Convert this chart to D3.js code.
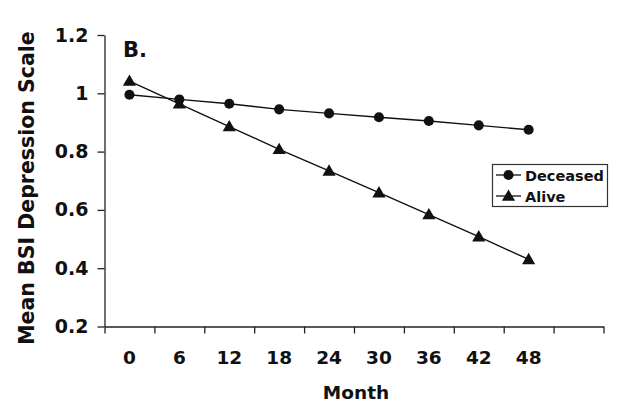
<!DOCTYPE html>
<html><head><meta charset="utf-8">
<script src="https://cdn.jsdelivr.net/npm/d3@7"></script>
<style>html,body{margin:0;padding:0;background:#fff;}svg{display:block;}</style>
</head><body>
<svg id="c" width="640" height="412"></svg>
<script>
const months = ["0","6","12","18","24","30","36","42","48"];
const slots = 10;
const deceased = [0.995, 0.979, 0.964, 0.945, 0.931, 0.918, 0.905, 0.89, 0.875];
const alive = [1.042, 0.964, 0.886, 0.808, 0.734, 0.659, 0.584, 0.508, 0.43];
const yTicks = [0.2, 0.4, 0.6, 0.8, 1, 1.2];
const yTickLabels = ["0.2","0.4","0.6","0.8","1","1.2"];

const font = "'DejaVu Sans', sans-serif";
const svg = d3.select("#c");
const mL = 104.5, mR = 603.5, mT = 35, mB = 326.5;
const xi = d3.scaleLinear().domain([0, slots]).range([mL, mR]);
const y = d3.scaleLinear().domain([0.2, 1.2]).range([mB, mT]);
const xc = i => xi(i + 0.5);

// Y axis
const ya = svg.append("g").attr("transform", `translate(${mL},0)`)
  .call(d3.axisLeft(y).tickValues(yTicks).tickSize(7).tickSizeOuter(0).tickFormat((d,i)=>yTickLabels[i]).tickPadding(9));
ya.selectAll("text").attr("font-family", font).attr("font-weight", "bold").attr("font-size", 19).attr("fill","#111");
ya.select(".domain").attr("stroke", "#222").attr("stroke-width", 1.3);
ya.selectAll(".tick line").attr("stroke", "#222").attr("stroke-width", 1.3);

// X axis (boundary ticks)
const xa = svg.append("g").attr("transform", `translate(0,${mB})`)
  .call(d3.axisBottom(xi).tickValues(d3.range(0, slots + 1)).tickSize(7).tickSizeOuter(0).tickFormat(""));
xa.select(".domain").attr("stroke", "#222").attr("stroke-width", 1.3);
xa.selectAll(".tick line").attr("stroke", "#222").attr("stroke-width", 1.3);

svg.append("g").selectAll("text").data(months).join("text")
  .attr("x", (d,i) => xc(i)).attr("y", 364)
  .attr("text-anchor", "middle").attr("font-family", font).attr("font-weight", "bold")
  .attr("font-size", 18.5).attr("fill", "#111").text(d => d);

// Axis titles
svg.append("text").attr("x", 356).attr("y", 399).attr("text-anchor", "middle")
  .attr("font-family", font).attr("font-weight", "bold").attr("font-size", 18.5).attr("fill","#111").text("Month");
svg.append("text").attr("transform", "translate(34,188) rotate(-90)").attr("text-anchor", "middle")
  .attr("font-family", font).attr("font-weight", "bold").attr("font-size", 20.5).attr("fill","#111").text("Mean BSI Depression Scale");
svg.append("text").attr("x", 123).attr("y", 57)
  .attr("font-family", font).attr("font-weight", "bold").attr("font-size", 21).attr("fill","#111").text("B.");

// Lines
const line = d3.line().x((d,i) => xc(i)).y(d => y(d));
svg.append("path").attr("d", line(deceased)).attr("fill","none").attr("stroke","#111").attr("stroke-width",1.4);
svg.append("path").attr("d", line(alive)).attr("fill","none").attr("stroke","#111").attr("stroke-width",1.4);

const circ = d3.symbol().type(d3.symbolCircle).size(80);
const tri = d3.symbol().type(d3.symbolTriangle).size(75);
svg.append("g").selectAll("path").data(deceased).join("path")
  .attr("d", circ).attr("transform", (d,i) => `translate(${xc(i)},${y(d)})`).attr("fill","#111");
svg.append("g").selectAll("path").data(alive).join("path")
  .attr("d", tri).attr("transform", (d,i) => `translate(${xc(i)},${y(d)+1})`).attr("fill","#111");

// Legend
const lg = svg.append("g");
lg.append("rect").attr("x", 492.5).attr("y", 164.5).attr("width", 115).attr("height", 42)
  .attr("fill","#fff").attr("stroke","#333").attr("stroke-width",1.2);
const items = [{name:"Deceased", sym:circ, yy:175}, {name:"Alive", sym:tri, yy:196}];
items.forEach(it => {
  lg.append("line").attr("x1", 496).attr("x2", 521).attr("y1", it.yy).attr("y2", it.yy).attr("stroke","#111").attr("stroke-width",1.3);
  lg.append("path").attr("d", it.sym).attr("transform", `translate(508.5,${it.yy + (it.sym===tri?1:0)})`).attr("fill","#111");
  lg.append("text").attr("x", 525).attr("y", it.yy + 5.5).attr("font-family", font).attr("font-weight","bold")
    .attr("font-size", 14.5).attr("fill","#111").text(it.name);
});
</script>
</body></html>
